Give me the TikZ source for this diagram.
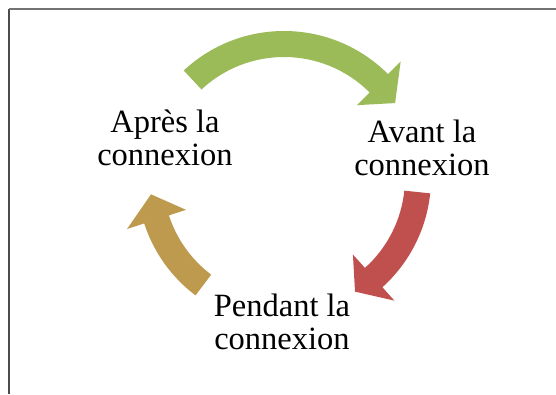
\documentclass[tikz,border=0pt]{standalone}
\usepackage{fontspec}
\setmainfont{Liberation Serif}
\usepackage{tikz}
\usetikzlibrary{positioning}

\definecolor{cycgreen}{HTML}{9BBB59}
\definecolor{cycred}{HTML}{C0504D}
\definecolor{cycgold}{HTML}{BD9A4E}

% one curved arrow of the cycle: colour, tail angle, head base angle, tip angle
\newcommand{\cycarrow}[4]{%
  \fill[#1] (#2:147) arc[start angle=#2, end angle=#3, radius=147]
    -- (#3:165) -- (#4:134) -- (#3:103) -- (#3:121)
    arc[start angle=#3, end angle=#2, radius=121] -- cycle;}

\begin{document}
\begin{tikzpicture}[x=1pt,y=1pt,
    phase/.style={align=center,inner sep=0pt,
      font=\fontsize{32.5}{33}\selectfont}]
   \useasboundingbox (0,0) rectangle (556,394);
   \draw[line width=1.2pt,black!70] (9,0) -- (9,385);
   \draw[line width=1.2pt,black!55] (9,385) -- (556,385);

   \coordinate (ctr) at (284,216);
   \node[phase] (apres)   at (165,256.5) {Après la\\connexion};
   \node[phase] (avant)   at (422,246.5) {Avant la\\connexion};
   \node[phase] (pendant) at (282,72)    {Pendant la\\connexion};

   \begin{scope}[shift={(ctr)}]
     \cycarrow{cycgreen}{133}{45}{34}
     \cycarrow{cycred}{-6}{-48}{-58}
     \cycarrow{cycgold}{233}{198}{187}
   \end{scope}
\end{tikzpicture}
\end{document}
